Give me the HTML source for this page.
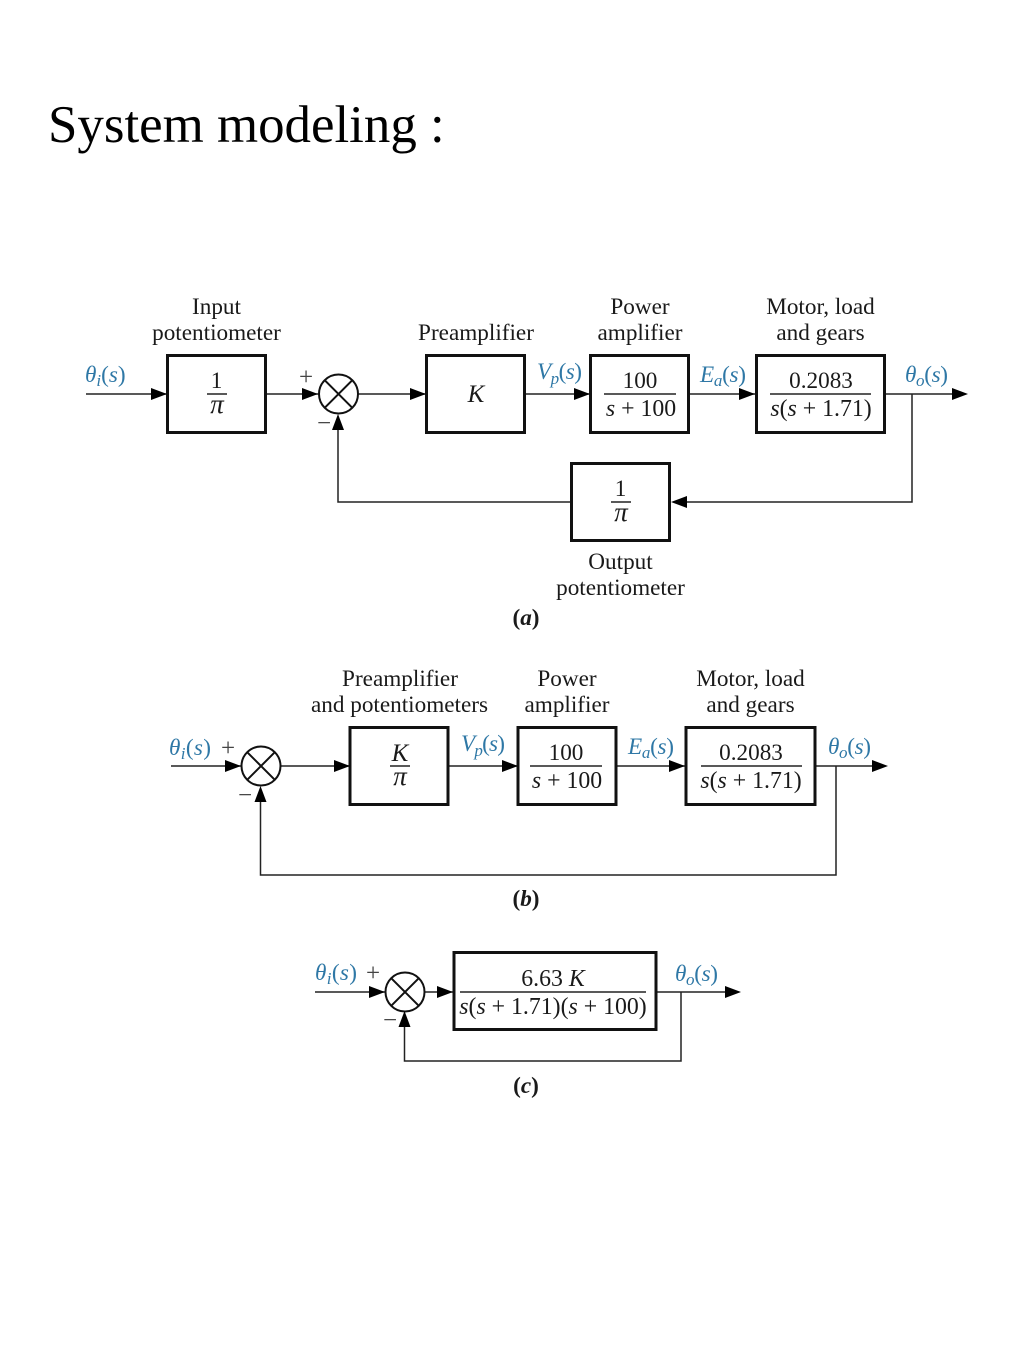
<!DOCTYPE html>
<html><head><meta charset="utf-8"><style>
html,body{margin:0;padding:0;background:#fff;width:1024px;height:1365px;overflow:hidden}
svg{display:block}
text{font-family:"Liberation Serif",serif;font-size:23.2px;fill:#1a1a1a}
.c{text-anchor:middle}
.i{font-style:italic}
.b{fill:#2f78a6}
.box{fill:#fff;stroke:#111;stroke-width:3}
.ln{fill:none;stroke:#222;stroke-width:1.5}
.sum{fill:#fff;stroke:#111;stroke-width:2}
.ar{fill:#000}
.sub{font-size:17px;font-style:italic}
.s{font-size:25px;fill:#444}
.m{font-size:23.8px}
.p{font-size:27px;font-style:italic}
.k{font-size:25px;font-style:italic}
</style></head><body>
<svg width="1024" height="1365" viewBox="0 0 1024 1365" xmlns="http://www.w3.org/2000/svg">
<defs>
<path id="r" d="M-16,-6 L0,0 L-16,6 Z" class="ar"/>
<g id="x"><circle r="19.5" class="sum"/><path d="M-13.8,-13.8L13.8,13.8M-13.8,13.8L13.8,-13.8" class="sum"/></g>
</defs>
<text x="48" y="142" style="font-size:52.9px;fill:#000">System modeling :</text>

<!-- (a) -->
<path class="ln" d="M86,394H167M266,394H319M358,394H426M525,394H590M689,394H756M885,394H960M912,394V502H680M571,502H338V425"/>
<rect class="box" x="167.500" y="355.500" width="98" height="77"/>
<rect class="box" x="426.500" y="355.500" width="98" height="77"/>
<rect class="box" x="590.500" y="355.500" width="98" height="77"/>
<rect class="box" x="756.500" y="355.500" width="128" height="77"/>
<rect class="box" x="571.500" y="463.500" width="98" height="77"/>
<use href="#x" x="338.500" y="394"/>
<use href="#r" x="167" y="394"/><use href="#r" x="318" y="394"/><use href="#r" x="426" y="394"/>
<use href="#r" x="590" y="394"/><use href="#r" x="755" y="394"/><use href="#r" x="968" y="394"/>
<path class="ar" d="M671,502L687,496V508Z"/>
<path class="ar" d="M338,414L332,430H344Z"/>
<text class="c" x="216.500" y="314">Input</text>
<text class="c" x="216.500" y="340">potentiometer</text>
<text class="c" x="476" y="340">Preamplifier</text>
<text class="c" x="640" y="314">Power</text>
<text class="c" x="640" y="340">amplifier</text>
<text class="c" x="820.500" y="314">Motor, load</text>
<text class="c" x="820.500" y="340">and gears</text>
<text class="c" x="620.500" y="569">Output</text>
<text class="c" x="620.500" y="595">potentiometer</text>
<text class="b" x="85" y="382"><tspan class="i">θ</tspan><tspan class="sub" dy="4">i</tspan><tspan dy="-4">(</tspan><tspan class="i">s</tspan>)</text>
<text class="b" x="537" y="379" textLength="45"><tspan class="i">V</tspan><tspan class="sub" dy="5">p</tspan><tspan dy="-5">(</tspan><tspan class="i">s</tspan>)</text>
<text class="b" x="700" y="382" textLength="46"><tspan class="i">E</tspan><tspan class="sub" dy="4">a</tspan><tspan dy="-4">(</tspan><tspan class="i">s</tspan>)</text>
<text class="b" x="905" y="382" textLength="43"><tspan class="i">θ</tspan><tspan class="sub" dy="4">o</tspan><tspan dy="-4">(</tspan><tspan class="i">s</tspan>)</text>
<text class="s c" x="306" y="385">+</text>
<text class="s c" x="324" y="431">−</text>
<text class="c" x="216.500" y="388">1</text>
<path class="ln" d="M207,394H227"/>
<text class="c p" x="217" y="413">π</text>
<text class="c k" x="476" y="402">K</text>
<text class="c" x="640" y="388">100</text>
<path class="ln" d="M604,394H676"/>
<text class="c m" x="641" y="416"><tspan class="i">s</tspan> + 100</text>
<text class="c" x="821" y="388">0.2083</text>
<path class="ln" d="M770,394H871"/>
<text class="c m" x="821" y="416"><tspan class="i">s</tspan>(<tspan class="i">s</tspan> + 1.71)</text>
<text class="c" x="620.500" y="496">1</text>
<path class="ln" d="M611,502H631"/>
<text class="c p" x="621" y="521">π</text>
<text class="c" x="526" y="625" style="font-weight:bold">(<tspan class="i">a</tspan>)</text>

<!-- (b) -->
<path class="ln" d="M171,766H242M281,766H350M448,766H518M616,766H686M815,766H880M836,766V875H260.500V797"/>
<rect class="box" x="350" y="727.500" width="98" height="77"/>
<rect class="box" x="518" y="727.500" width="98" height="77"/>
<rect class="box" x="686" y="727.500" width="129" height="77"/>
<use href="#x" x="261" y="766"/>
<use href="#r" x="241" y="766"/><use href="#r" x="350" y="766"/><use href="#r" x="518" y="766"/>
<use href="#r" x="685" y="766"/><use href="#r" x="888" y="766"/>
<path class="ar" d="M260.500,786L254.500,802H266.500Z"/>
<text class="c" x="400" y="686">Preamplifier</text>
<text class="c" x="399.500" y="712">and potentiometers</text>
<text class="c" x="567" y="686">Power</text>
<text class="c" x="567" y="712">amplifier</text>
<text class="c" x="750.500" y="686">Motor, load</text>
<text class="c" x="750.500" y="712">and gears</text>
<text class="b" x="169" y="755" textLength="42"><tspan class="i">θ</tspan><tspan class="sub" dy="4">i</tspan><tspan dy="-4">(</tspan><tspan class="i">s</tspan>)</text>
<text class="b" x="461" y="751" textLength="44"><tspan class="i">V</tspan><tspan class="sub" dy="5">p</tspan><tspan dy="-5">(</tspan><tspan class="i">s</tspan>)</text>
<text class="b" x="628" y="754" textLength="46"><tspan class="i">E</tspan><tspan class="sub" dy="4">a</tspan><tspan dy="-4">(</tspan><tspan class="i">s</tspan>)</text>
<text class="b" x="828" y="754" textLength="43"><tspan class="i">θ</tspan><tspan class="sub" dy="4">o</tspan><tspan dy="-4">(</tspan><tspan class="i">s</tspan>)</text>
<text class="s c" x="228" y="756">+</text>
<text class="s c" x="245" y="803">−</text>
<text class="c k" x="400" y="761">K</text>
<path class="ln" d="M390,766H410"/>
<text class="c p" x="400" y="785">π</text>
<text class="c" x="566" y="760">100</text>
<path class="ln" d="M530,766H602"/>
<text class="c m" x="567" y="788"><tspan class="i">s</tspan> + 100</text>
<text class="c" x="751" y="760">0.2083</text>
<path class="ln" d="M701,766H802"/>
<text class="c m" x="751" y="788"><tspan class="i">s</tspan>(<tspan class="i">s</tspan> + 1.71)</text>
<text class="c" x="526" y="906" style="font-weight:bold">(<tspan class="i">b</tspan>)</text>

<!-- (c) -->
<path class="ln" d="M315,992H386M424,992H454M656,992H735M681,992V1061H404.500V1023"/>
<rect class="box" x="454" y="952.500" width="202" height="77"/>
<use href="#x" x="405" y="992"/>
<use href="#r" x="385" y="992"/><use href="#r" x="453" y="992"/><use href="#r" x="741" y="992"/>
<path class="ar" d="M404.500,1011L398.500,1027H410.500Z"/>
<path class="ln" d="M460,992H646"/>
<text class="b" x="315" y="980" textLength="42"><tspan class="i">θ</tspan><tspan class="sub" dy="4">i</tspan><tspan dy="-4">(</tspan><tspan class="i">s</tspan>)</text>
<text class="b" x="675" y="981" textLength="43"><tspan class="i">θ</tspan><tspan class="sub" dy="4">o</tspan><tspan dy="-4">(</tspan><tspan class="i">s</tspan>)</text>
<text class="s c" x="373" y="981">+</text>
<text class="s c" x="390" y="1028">−</text>
<text class="c m" x="553" y="986">6.63 <tspan class="i">K</tspan></text>
<text class="c m" x="553" y="1014"><tspan class="i">s</tspan>(<tspan class="i">s</tspan> + 1.71)(<tspan class="i">s</tspan> + 100)</text>
<text class="c" x="526" y="1093" style="font-weight:bold">(<tspan class="i">c</tspan>)</text>
</svg>
</body></html>
